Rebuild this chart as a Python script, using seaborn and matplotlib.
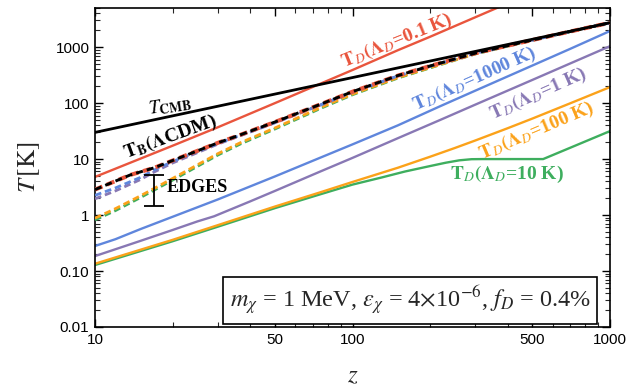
import matplotlib
matplotlib.use("Agg")
import matplotlib.pyplot as plt
import matplotlib.ticker as mticker
import seaborn as sns
import pandas as pd

# ---------------- data ----------------
z_cmb = [10, 1000]
T_cmb = [29.97, 2727.0]

z_b = [10, 13.7, 17, 20, 30, 36.6, 50, 75, 100, 150, 200, 250, 300, 400, 500, 700, 1000]
T_b = [2.85, 5.2, 7.0, 9.4, 19.5, 27.0, 46, 95, 160, 310, 460, 615, 780, 1060, 1340, 1900, 2725]

z_bd = [10, 12, 15, 17, 20, 30, 50, 75, 100, 150, 200, 250, 300, 400, 500, 700, 1000]
T_blue_d = [2.25, 3.05, 4.7, 6.4, 9.0, 19.0, 45, 93, 157, 306, 456, 612, 776, 1055, 1335, 1895, 2725]
T_purple_d = [1.95, 2.7, 4.3, 5.9, 8.5, 18.5, 44.5, 92, 156, 305, 455, 611, 775, 1054, 1335, 1895, 2725]

z_od = [10, 12, 15, 17, 20, 30, 36.6, 50, 75, 100, 150, 200, 250, 300, 400, 500, 700, 1000]
T_orange_d = [0.88, 1.3, 2.2, 3.0, 4.5, 12.5, 19.5, 36, 83, 145, 285, 430, 590, 760, 1045, 1330, 1893, 2724]
T_green_d = [0.82, 1.2, 2.05, 2.8, 4.2, 11.8, 18.5, 34.5, 80, 141, 280, 425, 585, 755, 1040, 1325, 1890, 2723]

z_red = [10, 20, 30, 50, 75, 100, 150, 200, 300, 400]
T_red = [4.8, 17.3, 37, 100, 222, 390, 880, 1530, 3420, 6050]

z_blue = [10, 12, 15, 20, 30, 50, 75, 100, 150, 219, 300, 500, 700, 1000]
T_blue = [0.28, 0.37, 0.56, 0.93, 1.9, 4.9, 10.6, 18.3, 40, 88, 167, 470, 930, 1940]

z_purple = [10, 15, 20, 25, 29, 40, 50, 75, 100, 150, 219, 300, 500, 700, 1000]
T_purple = [0.185, 0.345, 0.54, 0.77, 0.95, 1.75, 2.7, 6.0, 10.5, 23.6, 50, 94, 260, 510, 1040]

z_orange = [10, 20, 30, 50, 75, 100, 150, 200, 250, 300, 400, 500, 700, 1000]
T_orange = [0.135, 0.36, 0.66, 1.42, 2.55, 3.9, 7.0, 11.0, 15.8, 21.5, 35.5, 53, 99, 193]

z_green = [10, 20, 30, 50, 75, 100, 130, 160, 200, 230, 260, 290, 320, 550, 700, 1000]
T_green = [0.128, 0.34, 0.62, 1.33, 2.35, 3.5, 4.7, 6.0, 7.5, 8.6, 9.5, 9.95, 10, 10, 15.9, 31.6]

edges_z = 17
edges_lo, edges_hi = 1.45, 5.2

x_ticks = [10, 50, 100, 500, 1000]
x_ticklabels = ["10", "50", "100", "500", "1000"]
y_ticks = [0.01, 0.1, 1, 10, 100, 1000]
y_ticklabels = ["0.01", "0.10", "1", "10", "100", "1000"]

RED = "#E9553D"
BLUE = "#5F86DC"
PURPLE = "#8878B4"
ORANGE = "#FBA21A"
GREEN = "#3EAE5E"

# ---------------- style ----------------
sns.set_theme(style="ticks")
plt.rcParams.update({
    "font.family": ["Liberation Sans", "DejaVu Sans"],
    "mathtext.fontset": "stix",
    "xtick.direction": "in",
    "ytick.direction": "in",
    "xtick.top": True,
    "ytick.right": True,
    "axes.linewidth": 1.2,
})

fig = plt.figure(figsize=(6.39, 3.89), dpi=100)
ax = fig.add_axes([95 / 639, 1 - 327 / 389, 515 / 639, 319 / 389])

dash = (0, (2.4, 1.4))

def line(z, T, color, lw=1.7, ls="-", zorder=2):
    df = pd.DataFrame({"z": z, "T": T})
    sns.lineplot(data=df, x="z", y="T", ax=ax, color=color, lw=lw,
                 linestyle=ls, zorder=zorder, legend=False, sort=True,
                 estimator=None)

# dashed baryon temperatures
line(z_od, T_green_d, GREEN, lw=2.0, ls=dash, zorder=3)
line(z_od, T_orange_d, ORANGE, lw=2.0, ls=dash, zorder=3)
line(z_bd, T_purple_d, PURPLE, lw=2.0, ls=dash, zorder=3)
line(z_bd, T_blue_d, BLUE, lw=2.0, ls=dash, zorder=3)
line(z_b, T_b, RED, lw=2.9, ls=(0, (2.0, 1.2)), zorder=4)
line(z_b, T_b, "black", lw=2.1, ls=dash, zorder=5)

# solid dark temperatures
line(z_green, T_green, GREEN)
line(z_orange, T_orange, ORANGE)
line(z_purple, T_purple, PURPLE)
line(z_blue, T_blue, BLUE)
line(z_red, T_red, RED)
line(z_cmb, T_cmb, "black", lw=2.0, zorder=6)

# EDGES error bar
mid = (edges_lo * edges_hi) ** 0.5
ax.errorbar([edges_z], [mid], yerr=[[mid - edges_lo], [edges_hi - mid]],
            fmt="none", ecolor="black", elinewidth=1.3, capsize=7,
            capthick=1.3, zorder=7)

ax.set_xscale("log")
ax.set_yscale("log")
ax.set_xlim(10, 1000)
ax.set_ylim(0.01, 5000)

ax.xaxis.set_major_locator(mticker.FixedLocator(x_ticks))
ax.xaxis.set_major_formatter(mticker.FixedFormatter(x_ticklabels))
ax.xaxis.set_minor_locator(mticker.FixedLocator(
    [20, 30, 40, 60, 70, 80, 90, 200, 300, 400, 600, 700, 800, 900]))
ax.xaxis.set_minor_formatter(mticker.NullFormatter())
ax.yaxis.set_major_locator(mticker.FixedLocator(y_ticks))
ax.yaxis.set_major_formatter(mticker.FixedFormatter(y_ticklabels))
ax.yaxis.set_minor_locator(mticker.LogLocator(base=10, subs=range(2, 10), numticks=20))
ax.yaxis.set_minor_formatter(mticker.NullFormatter())
ax.tick_params(which="major", length=6, width=1.0, labelsize=11, pad=4, colors="black")
ax.tick_params(which="minor", length=3.5, width=0.8)
for s in ax.spines.values():
    s.set_color("black")

ax.set_xlabel(r"$z$", fontsize=18, labelpad=12)
ax.set_ylabel(r"$T\,[\mathrm{K}]$", fontsize=18, labelpad=10)

# ---------------- labels ----------------
lab = dict(fontfamily="Liberation Serif", fontweight="bold", fontsize=14,
           ha="center", va="center", rotation_mode="anchor")
ax.text(19.5, 90, r"$\mathit{T}_{\mathbf{CMB}}$", color="black", rotation=9, **lab)
ax.text(19.7, 24.7, r"$\mathbf{T_B(\Lambda}$CDM)", color="black", rotation=20, **lab)
ax.text(149, 1280, r"$\mathbf{T_{\mathit{D}}(\Lambda_{\mathit{D}}}$=0.1 K)", color=RED, rotation=22, **lab)
ax.text(297, 268, r"$\mathbf{T_{\mathit{D}}(\Lambda_{\mathit{D}}}$=1000 K)", color=BLUE, rotation=24, **lab)
ax.text(525, 145, r"$\mathbf{T_{\mathit{D}}(\Lambda_{\mathit{D}}}$=1 K)", color=PURPLE, rotation=24, **lab)
ax.text(520, 31.6, r"$\mathbf{T_{\mathit{D}}(\Lambda_{\mathit{D}}}$=100 K)", color=ORANGE, rotation=23, **lab)
ax.text(398, 5.4, r"$\mathbf{T_{\mathit{D}}(\Lambda_{\mathit{D}}}$=10 K)", color=GREEN, rotation=0, **lab)
ax.text(25.0, 3.16, "EDGES", color="black", fontfamily="Liberation Serif",
        fontweight="bold", fontsize=13, ha="center", va="center")

ax.text(0.612, 0.082,
        r"$m_\chi$ = 1 MeV, $\varepsilon_\chi$ = 4$\times$10$^{-6}$, $f_D$ = 0.4%",
        transform=ax.transAxes, fontfamily="Liberation Serif", fontsize=17.5,
        ha="center", va="center",
        bbox=dict(boxstyle="square,pad=0.28", fc="white", ec="black", lw=1.2),
        zorder=8)

fig.savefig("out.png", dpi=100)
